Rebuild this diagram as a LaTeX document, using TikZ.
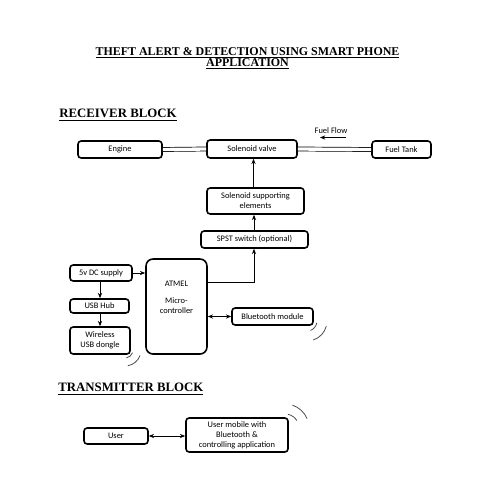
\documentclass[tikz,border=0pt]{standalone}
\usepackage{fontspec}
\setmainfont{Liberation Serif}
\newfontfamily\boxfont{Carlito}
\usetikzlibrary{arrows.meta}
\begin{document}
\begin{tikzpicture}[x=0.02cm,y=-0.02cm,
  blk/.style={draw,line width=0.9pt,rounded corners=1.8pt,font=\boxfont\fontsize{4.8}{5.7}\selectfont,align=center,inner sep=0pt},
  conn/.style={line width=0.5pt,-{Stealth[length=3pt,width=2.4pt]}},
  biconn/.style={line width=0.5pt,{Stealth[length=3pt,width=2.4pt]}-{Stealth[length=3pt,width=2.4pt]}},
  pipe/.style={double,double distance=1.9pt,line width=0.4pt},
  wave/.style={line width=0.45pt,black!70},
  head/.style={font=\bfseries\fontsize{6.8}{8}\selectfont,anchor=base,inner sep=0pt},
  sect/.style={font=\bfseries\fontsize{7.3}{9}\selectfont,anchor=base west,inner sep=0pt},
  lbl/.style={font=\boxfont\fontsize{4.8}{5.7}\selectfont,inner sep=0pt}]
\useasboundingbox[fill=white] (0,0) rectangle (495,495);
% titles
\node[head] (t1) at (247.5,55) {\underline{THEFT ALERT \& DETECTION USING SMART PHONE}};
\node[head] (t2) at (247.5,66) {\underline{APPLICATION}};
\node[sect] (rb) at (59,117.5) {\underline{RECEIVER BLOCK}};
\node[sect] (tb) at (58,391.5) {\underline{TRANSMITTER BLOCK}};
% receiver boxes
\node[blk,minimum width=84*0.02cm,minimum height=17*0.02cm] (engine) at (120,149.5) {Engine};
\node[blk,minimum width=90*0.02cm,minimum height=18*0.02cm] (valve) at (252,149) {Solenoid valve};
\node[blk,minimum width=59*0.02cm,minimum height=17*0.02cm] (tank) at (401.5,149.5) {Fuel Tank};
\node[blk,minimum width=97*0.02cm,minimum height=26*0.02cm] (sup) at (255.5,201) {Solenoid supporting\\elements};
\node[blk,minimum width=107*0.02cm,minimum height=17*0.02cm] (spst) at (254.5,239.5) {SPST switch (optional)};
\node[blk,rounded corners=4pt,minimum width=61*0.02cm,minimum height=95*0.02cm] (atmel) at (176.5,306.5) {};
\node[lbl] (atmeltxt) at (176.5,284) {ATMEL};
\node[lbl,align=center] (microtxt) at (176.5,306) {Micro-\\controller};
\node[blk,minimum width=62*0.02cm,minimum height=16*0.02cm] (dc) at (101,273) {5v DC supply};
\node[blk,minimum width=59*0.02cm,minimum height=14*0.02cm] (hub) at (99.5,306) {USB Hub};
\node[blk,minimum width=60*0.02cm,minimum height=27*0.02cm] (dongle) at (100,340.5) {Wireless\\USB dongle};
\node[blk,minimum width=81*0.02cm,minimum height=17*0.02cm] (bt) at (272.5,316.5) {Bluetooth module};
% transmitter boxes
\node[blk,minimum width=64*0.02cm,minimum height=16*0.02cm] (user) at (116,436) {User};
\node[blk,minimum width=102*0.02cm,minimum height=34*0.02cm] (mobile) at (237,435) {User mobile with\\Bluetooth \&\\controlling application};
% pipes
\draw[pipe] (engine.east) -- (valve.west);
\draw[pipe] (valve.east) -- (tank.west);
% fuel flow
\node[lbl] (ff) at (331,130.5) {Fuel Flow};
\coordinate (ffa) at (346,137.5);
\coordinate (ffb) at (320,137.5);
\draw[conn] (ffa) -- (ffb);
% connectors
\draw[conn] (sup.north -| 253.5,0) -- (valve.south -| 253.5,0);
\draw[conn] (spst.north -| 254,0) -- (sup.south -| 254,0);
\draw[conn] ([yshift=0.49cm]atmel.east) -| (spst.south -| 254,0);
\draw[conn] (dc.east) -- (dc.east -| atmel.west);
\draw[conn] (dc.south -| 100,0) -- (hub.north -| 100,0);
\draw[conn] (hub.south -| 100,0) -- (dongle.north -| 100,0);
\draw[biconn] (bt.west -| atmel.east) -- (bt.west);
\draw[biconn] (user.east) -- (user.east -| mobile.west);
% wireless waves
\draw[wave] (125,350) ++(20:8) arc[start angle=20,end angle=80,radius=8];
\draw[wave] (125,350) ++(20:16) arc[start angle=20,end angle=80,radius=16];
\draw[wave] (307,321) ++(10:10) arc[start angle=10,end angle=70,radius=10];
\draw[wave] (307,321) ++(15:20) arc[start angle=15,end angle=72,radius=20];
\draw[wave] (285,428) ++(-78:14) arc[start angle=-78,end angle=-32,radius=14];
\draw[wave] (285,428) ++(-72:24) arc[start angle=-72,end angle=-23,radius=24];
\end{tikzpicture}
\end{document}
